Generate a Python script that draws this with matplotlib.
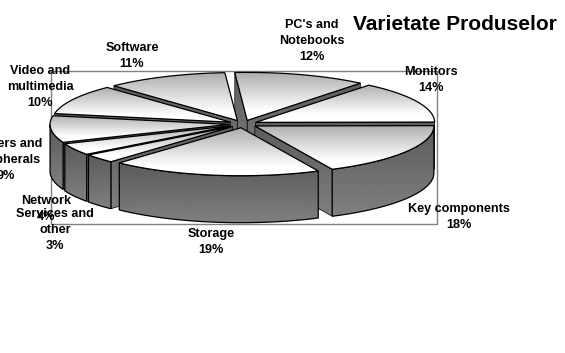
import numpy as np
import matplotlib
matplotlib.use("Agg")
import matplotlib.pyplot as plt
from matplotlib.patches import Polygon, Rectangle

plt.rcParams['font.family'] = ['Liberation Sans', 'DejaVu Sans']

categories = ["PC's and\nNotebooks", "Monitors", "Key components", "Storage",
              "Services and\nother", "Network", "Servers and\nperipherals",
              "Video and\nmultimedia", "Software"]
values = [12, 14, 18, 19, 3, 4, 9, 10, 11]
title = "Varietate Produselor"

label_x = [312, 431, 459, 211, 55, 46, 6, 40, 132]
label_y = [41, 80, 217, 242, 230, 209, 160, 87, 56]

W, H = 565, 353
CX, CY, RX, RY = 243, 124, 179, 48
DEPTH, EXPLODE, START = 47, 14, -4

fig = plt.figure(figsize=(W / 100, H / 100), dpi=100)
ax = fig.add_axes([0, 0, 1, 1])
ax.set_xlim(0, W)
ax.set_ylim(H, 0)
ax.axis('off')

ax.add_patch(Rectangle((51, 71), 386, 153, fill=False, ec='#808080', lw=1.0, zorder=1))


def pt(a, r=1.0, ox=0.0, oy=0.0):
    t = np.radians(a)
    return np.column_stack([ox + CX + RX * r * np.sin(t),
                            oy + CY - RY * r * np.cos(t)])


z = [10]


def grad_poly(points, c0, c1, lw=0.8):
    points = np.asarray(points)
    poly = Polygon(points, closed=True, fc='none', ec='none', transform=ax.transData)
    ax.add_patch(poly)
    x0, y0 = points.min(axis=0)
    x1, y1 = points.max(axis=0)
    g = np.clip(np.linspace(c0, c1, 64), 0, 1).reshape(-1, 1)
    im = ax.imshow(g, cmap='gray', vmin=0, vmax=1, extent=(x0, x1, y1, y0),
                   aspect='auto', zorder=z[0], interpolation='bilinear')
    im.set_clip_path(poly)
    ax.add_patch(Polygon(points, closed=True, fc='none', ec='black', lw=lw, zorder=z[0] + 0.5))
    z[0] += 1


edges = START + np.concatenate([[0], np.cumsum(values)]) * 3.6
slices = list(zip(edges[:-1], edges[1:]))
for a0, a1 in sorted(slices, key=lambda s: -np.cos(np.radians((s[0] + s[1]) / 2))):
    mid = np.radians((a0 + a1) / 2)
    ox = EXPLODE * np.sin(mid)
    oy = -EXPLODE * RY / RX * np.cos(mid)
    apex = np.array([[CX + ox, CY + oy]])
    arc = pt(np.linspace(a0, a1, 60), 1.0, ox, oy)
    drop = np.array([0, DEPTH])
    # visible cut faces
    if np.sin(np.radians(a0)) < 0:
        e = pt(np.array([a0]), 1.0, ox, oy)
        grad_poly(np.vstack([apex, e, e + drop, apex + drop]), 0.36, 0.5, lw=0.5)
    if np.sin(np.radians(a1)) > 0:
        e = pt(np.array([a1]), 1.0, ox, oy)
        grad_poly(np.vstack([apex, e, e + drop, apex + drop]), 0.36, 0.5, lw=0.5)
    # outer wall (front half only)
    fa = np.linspace(max(a0, 90), min(a1, 270), 60)
    if fa[-1] > fa[0]:
        front = pt(fa, 1.0, ox, oy)
        grad_poly(np.vstack([front, (front + drop)[::-1]]), 0.36, 0.5, lw=0.9)
    grad_poly(np.vstack([apex, arc]), 0.68, 1.08, lw=0.9)

for name, v, x, y in zip(categories, values, label_x, label_y):
    ax.text(x, y, f"{name}\n{v}%", ha='center', va='center', ma='center',
            fontsize=9.1, fontweight='bold', linespacing=1.42, color='black', zorder=100)

ax.text(455, 24, title, ha='center', va='center', fontsize=15.0,
        fontweight='bold', color='black', zorder=100)

fig.savefig("out.png", dpi=100, facecolor='white')
